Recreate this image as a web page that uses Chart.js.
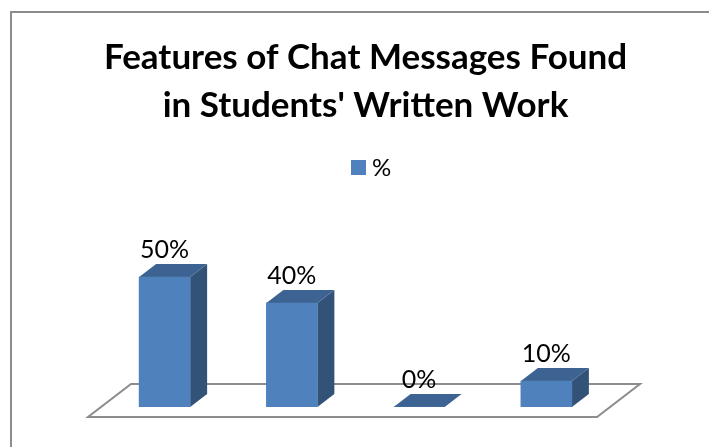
<!DOCTYPE html>
<html>
<head>
<meta charset="utf-8">
<style>
  html, body { margin: 0; padding: 0; background: #fff; overflow: hidden; }
  #wrap { position: absolute; left: 0; top: 0; width: 709px; height: 447px; }
</style>
<script src="https://cdn.jsdelivr.net/npm/chart.js@4/dist/chart.umd.min.js"></script>
</head>
<body>
<div id="wrap"><canvas id="chart" width="709" height="447"></canvas></div>
<script>
const titleLines = ['Features of Chat Messages Found', "in Students' Written Work"];
const categories = ['1', '2', '3', '4'];
const seriesName = '%';
const values = [50, 40, 0, 10];

const FRONT = '#4f81bd';
const TOP = '#3c6391';
const SIDE = '#335278';
const FLOOR = '#8c8c8c';
const DX = 17, DY = 13;

function poly(ctx, pts, fill) {
  ctx.beginPath();
  pts.forEach((p, i) => i ? ctx.lineTo(p[0], p[1]) : ctx.moveTo(p[0], p[1]));
  ctx.closePath();
  ctx.fillStyle = fill;
  ctx.fill();
}

// --- outer frame, floor, legend ---
const floorPlugin = {
  id: 'floor',
  beforeDatasetsDraw(chart) {
    const { ctx, chartArea: a, scales } = chart;
    const y0 = scales.y.getPixelForValue(0);
    ctx.save();
    ctx.strokeStyle = FLOOR;
    ctx.lineWidth = 2;
    ctx.beginPath();
    ctx.moveTo(11, 447);
    ctx.lineTo(11, 12);
    ctx.lineTo(709, 12);
    ctx.stroke();
    ctx.beginPath();
    ctx.moveTo(a.left - 13, y0 + 10);
    ctx.lineTo(a.right - 13, y0 + 10);
    ctx.lineTo(a.right + 30, y0 - 23);
    ctx.lineTo(a.left + 30, y0 - 23);
    ctx.closePath();
    ctx.stroke();

    ctx.fillStyle = FRONT;
    ctx.fillRect(351, 160, 15, 15);
    ctx.fillStyle = '#000';
    ctx.font = '24px Lato';
    ctx.textBaseline = 'middle';
    ctx.fillText(seriesName, 372, 168);
    ctx.restore();
  }
};

// --- 3d faces and value labels, from the bar elements ---
const boxPlugin = {
  id: 'box',
  beforeDatasetDraw(chart) {
    const { ctx } = chart;
    chart.getDatasetMeta(0).data.forEach(bar => {
      const { x, y, base, width } = bar.getProps(['x', 'y', 'base', 'width']);
      const r = x + width / 2, l = x - width / 2;
      poly(ctx, [[r, y], [r + DX, y - DY], [r + DX, base - DY], [r, base]], SIDE);
      poly(ctx, [[l, y], [l + DX, y - DY], [r + DX, y - DY], [r, y]], TOP);
    });
  },
  afterDatasetsDraw(chart) {
    const { ctx } = chart;
    ctx.save();
    ctx.font = '25px Lato';
    ctx.fillStyle = '#000';
    ctx.textAlign = 'center';
    ctx.textBaseline = 'middle';
    chart.getDatasetMeta(0).data.forEach((bar, i) => {
      ctx.fillText(values[i] + '%', bar.x, bar.y - 27);
    });
    ctx.restore();
  }
};

new Chart(document.getElementById('chart'), {
  type: 'bar',
  data: {
    labels: categories,
    datasets: [{
      label: seriesName,
      data: values,
      backgroundColor: FRONT,
      barThickness: 51,
    }]
  },
  options: {
    animation: false,
    responsive: false,
    layout: { padding: { left: 101, right: 79, top: 0, bottom: 40 } },
    plugins: {
      title: {
        display: true,
        text: titleLines,
        color: '#000',
        font: { family: 'Lato', size: 35, weight: 'bold', lineHeight: 1.372 },
        padding: { top: 34, bottom: 43 },
      },
      legend: { display: false },
      tooltip: { enabled: false },
    },
    scales: {
      x: { display: false },
      // empty right axis, keeps the title centred right of the plot centre
      y: {
        position: 'right',
        min: 0,
        max: 90,
        ticks: { display: false },
        grid: { display: false },
        border: { display: false },
        afterFit: s => { s.width = 20; },
      },
    }
  },
  plugins: [floorPlugin, boxPlugin]
});
</script>
</body>
</html>
